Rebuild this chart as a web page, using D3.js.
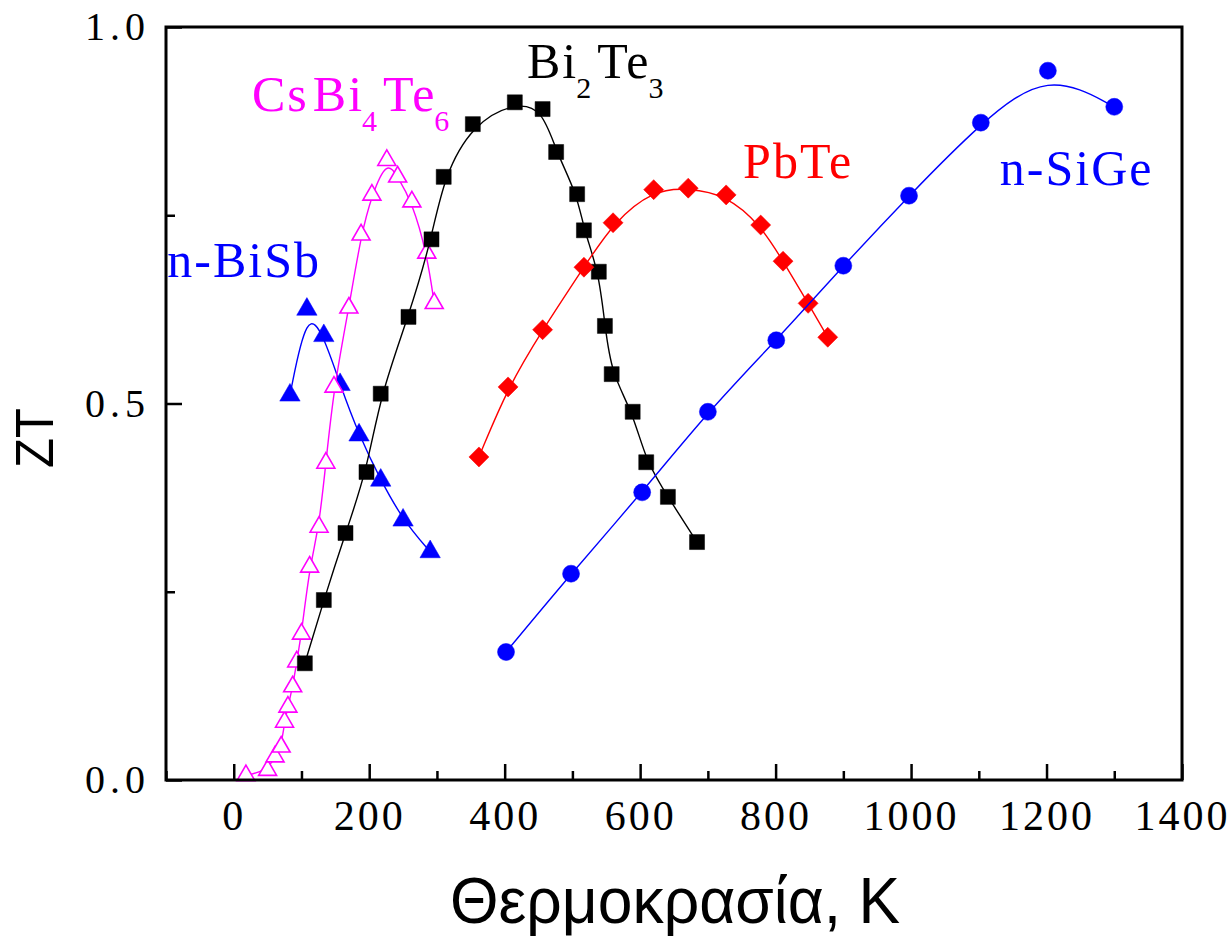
<!DOCTYPE html>
<html>
<head>
<meta charset="utf-8">
<script src="https://cdn.jsdelivr.net/npm/d3@7"></script>
<style>
  body { margin: 0; background: #fff; }
  .tick text { font-family: "Liberation Serif", "Times New Roman", serif; fill: #000; }
</style>
</head>
<body>
<div id="chart"></div>
<script>
var svgWidth = 1231;
var svgHeight = 937;

// ZT data, temperature in K
var biSbT  = [83, 108, 133, 157, 185, 217, 250, 290];
var biSbZT = [0.511, 0.625, 0.590, 0.525, 0.458, 0.398, 0.345, 0.303];

var csT  = [18, 50, 61, 70, 75, 80, 87, 93, 100, 112, 126, 136, 148, 170, 188, 204, 226, 242, 263, 285, 296];
var csZT = [0.006, 0.013, 0.031, 0.044, 0.077, 0.097, 0.124, 0.157, 0.194, 0.283, 0.336, 0.421, 0.522, 0.627, 0.724, 0.777, 0.823, 0.801, 0.768, 0.700, 0.633];

var biTeT  = [105, 133, 165, 196, 217, 258, 292, 310, 353, 415, 456, 476, 507, 517, 539, 548, 558, 589, 609, 641, 684];
var biTeZT = [0.155, 0.239, 0.328, 0.409, 0.513, 0.615, 0.718, 0.801, 0.871, 0.900, 0.891, 0.834, 0.778, 0.730, 0.675, 0.603, 0.539, 0.489, 0.422, 0.376, 0.316];

var pbTeT  = [362, 405, 456, 517, 560, 620, 671, 727, 778, 811, 848, 877];
var pbTeZT = [0.429, 0.522, 0.598, 0.681, 0.740, 0.784, 0.786, 0.777, 0.737, 0.689, 0.633, 0.588];

var siGeT  = [402, 498, 603, 700, 801, 900, 997, 1103, 1202, 1300];
var siGeZT = [0.170, 0.274, 0.382, 0.489, 0.584, 0.683, 0.776, 0.873, 0.942, 0.894];

var xTicks = [0, 200, 400, 600, 800, 1000, 1200, 1400];
var xMinorTicks = [-100, 100, 300, 500, 700, 900, 1100, 1300];
var yTicks = [0, 0.5, 1.0];
var yMinorTicks = [0.25, 0.75];

var xTitle = "Θερμοκρασία, K";
var yTitle = "ZT";

var plot = { left: 166, right: 1182, top: 27, bottom: 780 };

var svg = d3.select("#chart")
    .append("svg")
    .attr("width", svgWidth)
    .attr("height", svgHeight);

// Scales
var x = d3.scaleLinear().domain([-100, 1400]).range([plot.left, plot.right]);
var y = d3.scaleLinear().domain([0, 1]).range([plot.bottom, plot.top]);

// Series: marker type and colour
var series = [
  { name: "n-BiSb", t: biSbT, zt: biSbZT, color: "#0000ff", symbol: d3.symbolTriangle, size: 180, fill: true, rotate: 0 },
  { name: "CsBi4Te6", t: csT, zt: csZT, color: "#ff00ff", symbol: d3.symbolTriangle, size: 140, fill: false, rotate: 0 },
  { name: "Bi2Te3", t: biTeT, zt: biTeZT, color: "#000000", symbol: d3.symbolSquare, size: 225, fill: true, rotate: 0 },
  { name: "PbTe", t: pbTeT, zt: pbTeZT, color: "#ff0000", symbol: d3.symbolSquare, size: 200, fill: true, rotate: 45 },
  { name: "n-SiGe", t: siGeT, zt: siGeZT, color: "#0000ff", symbol: d3.symbolCircle, size: 227, fill: true, rotate: 0 }
];

var line = d3.line()
    .x(d => x(d[0]))
    .y(d => y(d[1]))
    .curve(d3.curveBasis);

series.forEach(function(s) {
  var pts = s.t.map((t, i) => [t, s.zt[i]]);
  var g = svg.append("g");

  g.append("path")
    .datum(pts)
    .attr("d", line)
    .attr("fill", "none")
    .attr("stroke", s.color)
    .attr("stroke-width", 1.4);

  g.selectAll("path.mark")
    .data(pts)
    .enter()
    .append("path")
    .attr("class", "mark")
    .attr("d", d3.symbol().type(s.symbol).size(s.size))
    .attr("transform", d => `translate(${x(d[0])},${y(d[1])}) rotate(${s.rotate})`)
    .attr("fill", s.fill ? s.color : "#fff")
    .attr("stroke", s.color)
    .attr("stroke-width", s.fill ? 0.5 : 1.6);
});

// Axes with inward ticks
var xAxis = svg.append("g")
    .attr("transform", `translate(0, ${plot.bottom})`)
    .call(d3.axisBottom(x).tickValues(xTicks).tickSize(-16).tickPadding(20).tickFormat(d3.format("d")));
xAxis.select(".domain").remove();
xAxis.selectAll(".tick line").attr("stroke-width", 2.5);
xAxis.selectAll(".tick text").attr("font-size", "42px").attr("letter-spacing", "3px");

var xMinor = svg.append("g")
    .attr("transform", `translate(0, ${plot.bottom})`)
    .call(d3.axisBottom(x).tickValues(xMinorTicks).tickSize(-9).tickFormat(""));
xMinor.select(".domain").remove();
xMinor.selectAll(".tick line").attr("stroke-width", 2.5);

var yAxis = svg.append("g")
    .attr("transform", `translate(${plot.left}, 0)`)
    .call(d3.axisLeft(y).tickValues(yTicks).tickSize(-16).tickPadding(16).tickFormat(d3.format(".1f")));
yAxis.select(".domain").remove();
yAxis.selectAll(".tick line").attr("stroke-width", 2.5);
yAxis.selectAll(".tick text").attr("font-size", "40px").attr("letter-spacing", "5px");

var yMinor = svg.append("g")
    .attr("transform", `translate(${plot.left}, 0)`)
    .call(d3.axisLeft(y).tickValues(yMinorTicks).tickSize(-9).tickFormat(""));
yMinor.select(".domain").remove();
yMinor.selectAll(".tick line").attr("stroke-width", 2.5);

// Frame
svg.append("rect")
    .attr("x", plot.left)
    .attr("y", plot.top)
    .attr("width", plot.right - plot.left)
    .attr("height", plot.bottom - plot.top)
    .attr("fill", "none")
    .attr("stroke", "#000")
    .attr("stroke-width", 3);

// Axis titles
svg.append("text")
    .attr("x", (plot.left + plot.right) / 2 + 1)
    .attr("y", 923)
    .attr("text-anchor", "middle")
    .attr("font-family", "Liberation Sans, Arial, sans-serif")
    .attr("font-size", "64px")
    .attr("textLength", 450)
    .attr("lengthAdjust", "spacingAndGlyphs")
    .text(xTitle);

svg.append("text")
    .attr("transform", "translate(53, 438) rotate(-90)")
    .attr("text-anchor", "middle")
    .attr("font-family", "Liberation Sans, Arial, sans-serif")
    .attr("font-size", "53px")
    .attr("textLength", 60)
    .attr("lengthAdjust", "spacingAndGlyphs")
    .text(yTitle);

// Series labels, [text, subscript] pieces
var labels = [
  { t: 27, zt: 0.888, color: "#ff00ff", parts: [["Cs", 0], ["Bi", 0], ["4", 1], ["Te", 0], ["6", 1]] },
  { t: -98, zt: 0.668, color: "#0000ff", parts: [["n-BiSb", 0]] },
  { t: 433, zt: 0.932, color: "#000000", parts: [["Bi", 0], ["2", 1], ["Te", 0], ["3", 1]] },
  { t: 752, zt: 0.799, color: "#ff0000", parts: [["PbTe", 0]] },
  { t: 1131, zt: 0.790, color: "#0000ff", parts: [["n-SiGe", 0]] }
];

labels.forEach(function(l) {
  var txt = svg.append("text")
    .attr("x", x(l.t))
    .attr("y", y(l.zt))
    .attr("fill", l.color)
    .attr("font-family", "Liberation Serif, Times New Roman, serif")
    .attr("font-size", "50px")
    .attr("letter-spacing", "2px");
  var low = false;
  l.parts.forEach(function(p, i) {
    var shift = 0;
    if (p[1] && !low) { shift = 20; low = true; }
    else if (!p[1] && low) { shift = -20; low = false; }
    txt.append("tspan")
      .attr("dy", shift)
      .attr("font-size", p[1] ? "30px" : "50px")
      .attr("dx", i === 0 ? 0 : (p[1] ? -2 : 4))
      .text(p[0]);
  });
});
</script>
</body>
</html>
